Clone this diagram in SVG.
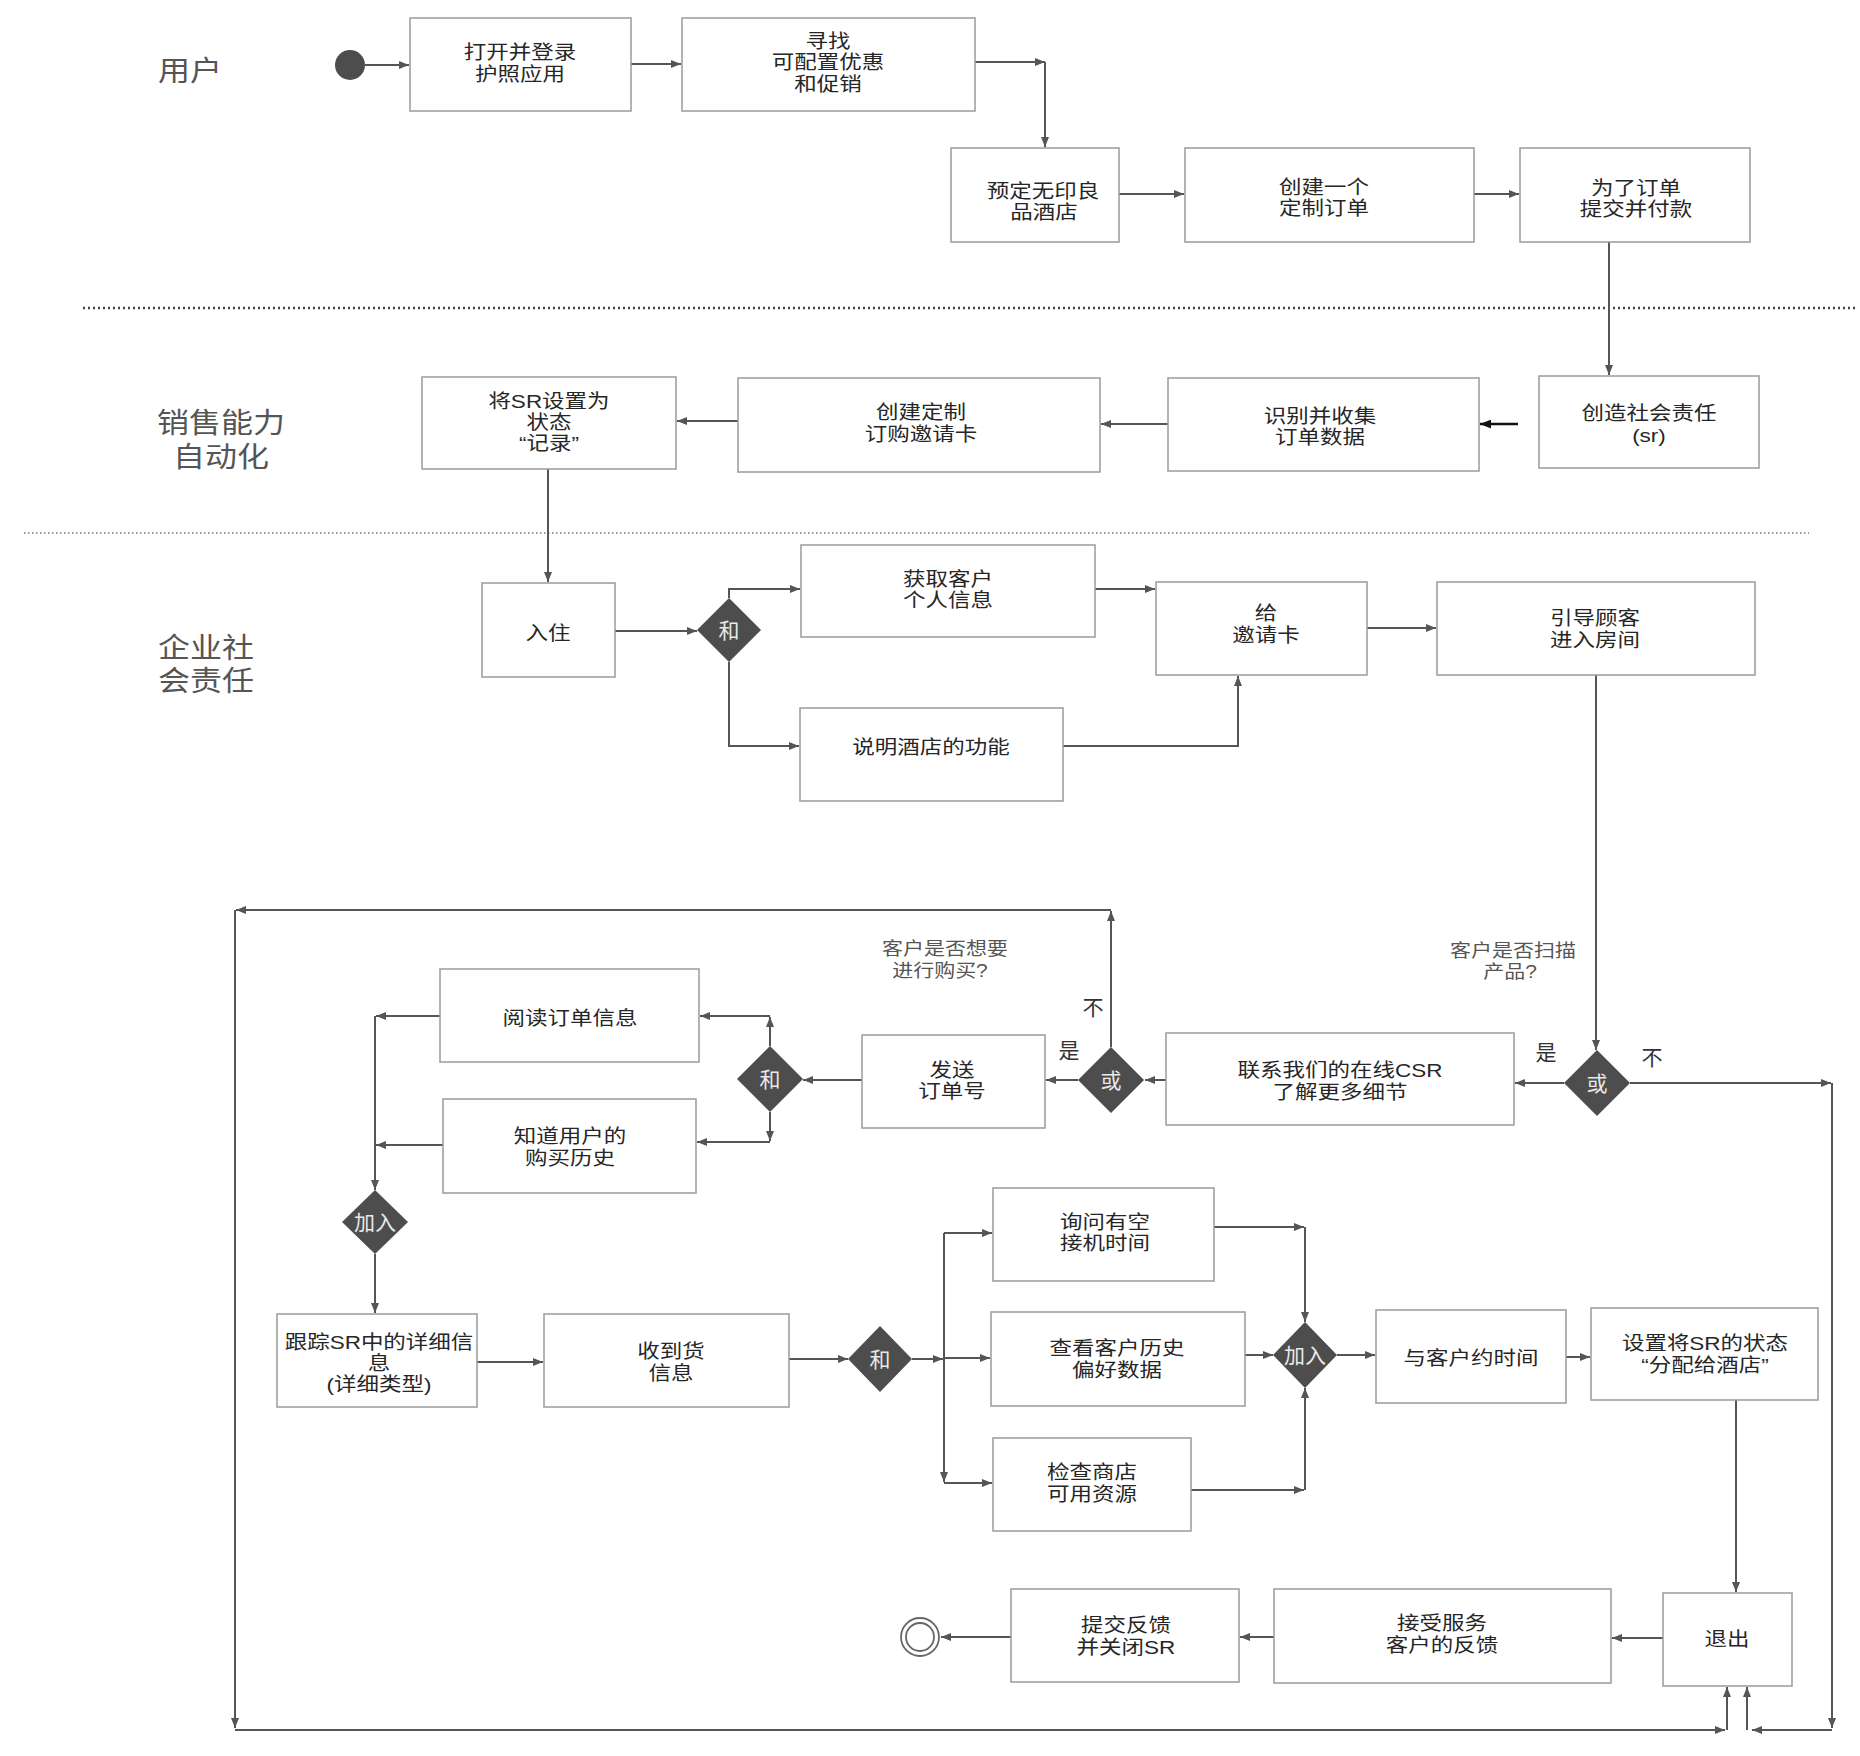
<svg xmlns="http://www.w3.org/2000/svg" width="1860" height="1756" viewBox="0 0 1860 1756">
  <defs>
    <marker id="ah" viewBox="0 0 10 8" refX="10" refY="4" markerWidth="10" markerHeight="8" markerUnits="userSpaceOnUse" orient="auto">
      <path d="M0,0 L10,4 L0,8 z" fill="#555"/>
    </marker>
    <marker id="ahk" viewBox="0 0 10 8" refX="10" refY="4" markerWidth="11" markerHeight="9" markerUnits="userSpaceOnUse" orient="auto">
      <path d="M0,0 L10,4 L0,8 z" fill="#111"/>
    </marker>
  </defs>
  <style>
    text { font-family: "Liberation Sans", "Noto Sans CJK SC", sans-serif; }
    .box { fill: #fff; stroke: #9a9a9a; stroke-width: 1.5; }
    .t { font-size: 22.5px; fill: #262626; text-anchor: middle; }
    .lane { font-size: 32px; fill: #555; text-anchor: middle; }
    .q { font-size: 21px; fill: #555; text-anchor: middle; }
    .yn { font-size: 21px; fill: #333; text-anchor: middle; }
    .dia { fill: #4d4d4d; }
    .dt { font-size: 21px; fill: #e8e8e8; text-anchor: middle; }
    .c { fill: none; stroke: #555; stroke-width: 2; marker-end: url(#ah); }
    .ck { fill: none; stroke: #111; stroke-width: 2.5; marker-end: url(#ahk); }
  </style>

  <rect width="1860" height="1756" fill="#fff"/>

  <!-- swimlane separators -->
  <line x1="83" y1="308" x2="1856" y2="308" stroke="#444" stroke-width="2.5" stroke-dasharray="2 3"/>
  <line x1="24" y1="533" x2="1809" y2="533" stroke="#777" stroke-width="1.5" stroke-dasharray="1.5 2.5"/>

  <!-- swimlane titles (slightly condensed vertically) -->
  <g id="lanes">
    <text class="lane" transform="matrix(1 0 0 0.88 0 9.72)" x="190" y="81">用户</text>
    <text class="lane" transform="matrix(1 0 0 0.88 0 54)"><tspan x="221" y="430.68">销售能力</tspan><tspan x="221" y="469.32">自动化</tspan></text>
    <text class="lane" transform="matrix(1 0 0 0.88 0 80.94)"><tspan x="206" y="655.75">企业社</tspan><tspan x="206" y="693.25">会责任</tspan></text>
  </g>

  <!-- connectors -->
  <g id="connectors">
    <path class="c" d="M365,65 H409"/>
    <path class="c" d="M631,64 H681"/>
    <path class="c" d="M975,62 H1045"/>
    <path class="c" d="M1045,62 V147"/>
    <path class="c" d="M1119,194 H1184"/>
    <path class="c" d="M1474,194 H1519"/>
    <path class="c" d="M1609,242 V375"/>
    <path class="ck" d="M1518,424 H1480"/>
    <path class="c" d="M1168,424 H1101"/>
    <path class="c" d="M738,421 H677"/>
    <path class="c" d="M548,469 V582"/>
    <path class="c" d="M615,631 H697"/>
    <path class="c" d="M729,598 V589 H800"/>
    <path class="c" d="M729,662 V746 H799"/>
    <path class="c" d="M1094,589 H1155"/>
    <path class="c" d="M1063,746 H1238 V676"/>
    <path class="c" d="M1367,628 H1436"/>
    <path class="c" d="M1596,675 V1050"/>
    <path class="c" d="M1564,1083 H1515"/>
    <path class="c" d="M1630,1083 H1831"/>
    <path class="c" d="M1832,1083 V1728"/>
    <path class="c" d="M1832,1730 H1752"/>
    <path class="c" d="M1747,1730 V1687"/>
    <path class="c" d="M1166,1080 H1145"/>
    <path class="c" d="M1078,1080 H1046"/>
    <path class="c" d="M1111,1047 V911"/>
    <path class="c" d="M1111,910 H236"/>
    <path class="c" d="M235,910 V1728"/>
    <path class="c" d="M235,1730 H1725"/>
    <path class="c" d="M1727,1730 V1687"/>
    <path class="c" d="M862,1080 H803"/>
    <path class="c" d="M770,1046 V1017"/>
    <path class="c" d="M770,1016 H700"/>
    <path class="c" d="M770,1112 V1141"/>
    <path class="c" d="M770,1142 H697"/>
    <path class="c" d="M440,1016 H376"/>
    <path class="c" d="M443,1145 H376"/>
    <path class="c" d="M375,1016 V1190"/>
    <path class="c" d="M375,1254 V1313"/>
    <path class="c" d="M477,1362 H543"/>
    <path class="c" d="M789,1359 H848"/>
    <path class="c" d="M912,1359 H943"/>
    <path class="c" d="M944,1233 V1482"/>
    <path class="c" d="M944,1233 H992"/>
    <path class="c" d="M944,1358 H990"/>
    <path class="c" d="M944,1483 H992"/>
    <path class="c" d="M1214,1227 H1304"/>
    <path class="c" d="M1305,1227 V1322"/>
    <path class="c" d="M1245,1355 H1273"/>
    <path class="c" d="M1191,1490 H1304"/>
    <path class="c" d="M1305,1490 V1388"/>
    <path class="c" d="M1337,1355 H1375"/>
    <path class="c" d="M1566,1357 H1590"/>
    <path class="c" d="M1736,1400 V1592"/>
    <path class="c" d="M1663,1638 H1612"/>
    <path class="c" d="M1274,1637 H1240"/>
    <path class="c" d="M1011,1637 H941"/>
  </g>

  <!-- guard labels -->
  <g id="labels">
    <text class="q" transform="matrix(1 0 0 0.85 0 145.125)"><tspan x="1513" y="955.15">客户是否扫描</tspan><tspan x="1510" y="979.85">产品?</tspan></text>
    <text class="q" transform="matrix(1 0 0 0.85 0 144.9)"><tspan x="945" y="953.06">客户是否想要</tspan><tspan x="940" y="978.94">进行购买?</tspan></text>
    <text class="yn" x="1546" y="1060">是</text>
    <text class="yn" x="1652" y="1065">不</text>
    <text class="yn" x="1069" y="1058">是</text>
    <text class="yn" x="1093" y="1015">不</text>
  </g>

  <!-- start / end -->
  <g id="start"><circle cx="350" cy="65" r="15" fill="#4d4d4d"/></g>
  <g id="end">
    <circle cx="920" cy="1637" r="19" fill="#fff" stroke="#666" stroke-width="1.8"/>
    <circle cx="920" cy="1637" r="14" fill="#fff" stroke="#666" stroke-width="1.8"/>
  </g>

  <!-- user lane -->
  <g id="n-open"><rect class="box" x="410" y="18" width="221" height="93"/>
    <text class="t" transform="matrix(1 0 0 0.85 0 10.5)"><tspan x="520" y="57.06">打开并登录</tspan><tspan x="520" y="82.94">护照应用</tspan></text></g>
  <g id="n-find"><rect class="box" x="682" y="18" width="293" height="93"/>
    <text class="t" transform="matrix(1 0 0 0.85 0 10.35)"><tspan x="828" y="44.29">寻找</tspan><tspan x="828" y="69">可配置优惠</tspan><tspan x="828" y="94.88">和促销</tspan></text></g>
  <g id="n-book"><rect class="box" x="951" y="148" width="168" height="94"/>
    <text class="t" transform="matrix(1 0 0 0.85 0 31.275)"><tspan x="1043" y="196.15">预定无印良</tspan><tspan x="1044" y="220.85">品酒店</tspan></text></g>
  <g id="n-order"><rect class="box" x="1185" y="148" width="289" height="94"/>
    <text class="t" transform="matrix(1 0 0 0.85 0 30.675)"><tspan x="1324" y="192.15">创建一个</tspan><tspan x="1324" y="216.85">定制订单</tspan></text></g>
  <g id="n-pay"><rect class="box" x="1520" y="148" width="230" height="94"/>
    <text class="t" transform="matrix(1 0 0 0.85 0 30.825)"><tspan x="1636" y="193.15">为了订单</tspan><tspan x="1636" y="217.85">提交并付款</tspan></text></g>

  <!-- sales automation lane -->
  <g id="n-sr"><rect class="box" x="1539" y="376" width="220" height="92"/>
    <text class="t" transform="matrix(1 0 0 0.85 0 64.65)"><tspan x="1649" y="418.06">创造社会责任</tspan><tspan x="1649" y="443.94">(sr)</tspan></text></g>
  <g id="n-collect"><rect class="box" x="1168" y="378" width="311" height="93"/>
    <text class="t" transform="matrix(1 0 0 0.85 0 65.025)"><tspan x="1320" y="421.15">识别并收集</tspan><tspan x="1320" y="445.85">订单数据</tspan></text></g>
  <g id="n-card"><rect class="box" x="738" y="378" width="362" height="94"/>
    <text class="t" transform="matrix(1 0 0 0.85 0 64.5)"><tspan x="921" y="417.06">创建定制</tspan><tspan x="921" y="442.94">订购邀请卡</tspan></text></g>
  <g id="n-record"><rect class="box" x="422" y="377" width="254" height="92"/>
    <text class="t" transform="matrix(1 0 0 0.85 0 64.425)"><tspan x="549" y="404.79">将SR设置为</tspan><tspan x="549" y="429.5">状态</tspan><tspan x="549" y="454.21">“记录”</tspan></text></g>

  <!-- CSR lane -->
  <g id="n-checkin"><rect class="box" x="482" y="583" width="133" height="94"/>
    <text class="t" transform="matrix(1 0 0 0.85 0 96)" x="548" y="640">入住</text></g>
  <g id="d-and1"><path class="dia" d="M729,598 L761,630 L729,662 L697,630 Z"/>
    <text class="dt" x="729" y="638">和</text></g>
  <g id="n-info"><rect class="box" x="801" y="545" width="294" height="92"/>
    <text class="t" transform="matrix(1 0 0 0.85 0 89.475)"><tspan x="948" y="584.15">获取客户</tspan><tspan x="948" y="608.85">个人信息</tspan></text></g>
  <g id="n-explain"><rect class="box" x="800" y="708" width="263" height="93"/>
    <text class="t" transform="matrix(1 0 0 0.85 0 113.1)" x="931" y="754">说明酒店的功能</text></g>
  <g id="n-give"><rect class="box" x="1156" y="582" width="211" height="93"/>
    <text class="t" transform="matrix(1 0 0 0.85 0 94.65)"><tspan x="1266" y="618.06">给</tspan><tspan x="1266" y="643.94">邀请卡</tspan></text></g>
  <g id="n-guide"><rect class="box" x="1437" y="582" width="318" height="93"/>
    <text class="t" transform="matrix(1 0 0 0.85 0 95.4)"><tspan x="1595" y="623.06">引导顾客</tspan><tspan x="1595" y="648.94">进入房间</tspan></text></g>

  <!-- lower flow -->
  <g id="d-or1"><path class="dia" d="M1597,1050 L1630,1083 L1597,1116 L1564,1083 Z"/>
    <text class="dt" x="1597" y="1091">或</text></g>
  <g id="n-contact"><rect class="box" x="1166" y="1033" width="348" height="92"/>
    <text class="t" transform="matrix(1 0 0 0.85 0 163.2)"><tspan x="1340" y="1075.06">联系我们的在线CSR</tspan><tspan x="1340" y="1100.94">了解更多细节</tspan></text></g>
  <g id="d-or2"><path class="dia" d="M1111,1047 L1144,1080 L1111,1113 L1078,1080 Z"/>
    <text class="dt" x="1111" y="1088">或</text></g>
  <g id="n-send"><rect class="box" x="862" y="1035" width="183" height="93"/>
    <text class="t" transform="matrix(1 0 0 0.85 0 163.125)"><tspan x="952" y="1075.15">发送</tspan><tspan x="952" y="1099.85">订单号</tspan></text></g>
  <g id="d-and2"><path class="dia" d="M770,1046 L803,1079 L770,1112 L737,1079 Z"/>
    <text class="dt" x="770" y="1087">和</text></g>
  <g id="n-read"><rect class="box" x="440" y="969" width="259" height="93"/>
    <text class="t" transform="matrix(1 0 0 0.85 0 153.75)" x="570" y="1025">阅读订单信息</text></g>
  <g id="n-history"><rect class="box" x="443" y="1099" width="253" height="94"/>
    <text class="t" transform="matrix(1 0 0 0.85 0 173.1)"><tspan x="570" y="1141.06">知道用户的</tspan><tspan x="570" y="1166.94">购买历史</tspan></text></g>
  <g id="d-join1"><path class="dia" d="M375,1190 L408,1222 L375,1254 L342,1222 Z"/>
    <text class="dt" x="375" y="1230">加入</text></g>
  <g id="n-track"><rect class="box" x="277" y="1314" width="200" height="93"/>
    <text class="t" transform="matrix(1 0 0 0.85 0 205.5)"><tspan x="379" y="1345.29">跟踪SR中的详细信</tspan><tspan x="379" y="1370">息</tspan><tspan x="379" y="1394.71">(详细类型)</tspan></text></g>
  <g id="n-receive"><rect class="box" x="544" y="1314" width="245" height="93"/>
    <text class="t" transform="matrix(1 0 0 0.85 0 205.35)"><tspan x="671" y="1356.06">收到货</tspan><tspan x="671" y="1381.94">信息</tspan></text></g>
  <g id="d-and3"><path class="dia" d="M880,1326 L912,1359 L880,1392 L848,1359 Z"/>
    <text class="dt" x="880" y="1367">和</text></g>
  <g id="n-ask"><rect class="box" x="993" y="1188" width="221" height="93"/>
    <text class="t" transform="matrix(1 0 0 0.85 0 185.925)"><tspan x="1105" y="1227.15">询问有空</tspan><tspan x="1105" y="1251.85">接机时间</tspan></text></g>
  <g id="n-prefs"><rect class="box" x="991" y="1312" width="254" height="94"/>
    <text class="t" transform="matrix(1 0 0 0.85 0 204.9)"><tspan x="1117" y="1353.06">查看客户历史</tspan><tspan x="1117" y="1378.94">偏好数据</tspan></text></g>
  <g id="n-stock"><rect class="box" x="993" y="1438" width="198" height="93"/>
    <text class="t" transform="matrix(1 0 0 0.85 0 223.5)"><tspan x="1092" y="1477.06">检查商店</tspan><tspan x="1092" y="1502.94">可用资源</tspan></text></g>
  <g id="d-join2"><path class="dia" d="M1305,1322 L1337,1355 L1305,1388 L1273,1355 Z"/>
    <text class="dt" x="1305" y="1363">加入</text></g>
  <g id="n-appoint"><rect class="box" x="1376" y="1310" width="190" height="93"/>
    <text class="t" transform="matrix(1 0 0 0.85 0 204.75)" x="1471" y="1365">与客户约时间</text></g>
  <g id="n-assign"><rect class="box" x="1591" y="1308" width="227" height="92"/>
    <text class="t" transform="matrix(1 0 0 0.85 0 204.15)"><tspan x="1705" y="1348.06">设置将SR的状态</tspan><tspan x="1705" y="1373.94">“分配给酒店”</tspan></text></g>
  <g id="n-exit"><rect class="box" x="1663" y="1593" width="129" height="93"/>
    <text class="t" transform="matrix(1 0 0 0.85 0 246.9)" x="1727" y="1646">退出</text></g>
  <g id="n-feedback"><rect class="box" x="1274" y="1589" width="337" height="94"/>
    <text class="t" transform="matrix(1 0 0 0.85 0 246.15)"><tspan x="1442" y="1628.06">接受服务</tspan><tspan x="1442" y="1653.94">客户的反馈</tspan></text></g>
  <g id="n-close"><rect class="box" x="1011" y="1589" width="228" height="93"/>
    <text class="t" transform="matrix(1 0 0 0.85 0 246.45)"><tspan x="1126" y="1630.06">提交反馈</tspan><tspan x="1126" y="1655.94">并关闭SR</tspan></text></g>
</svg>
